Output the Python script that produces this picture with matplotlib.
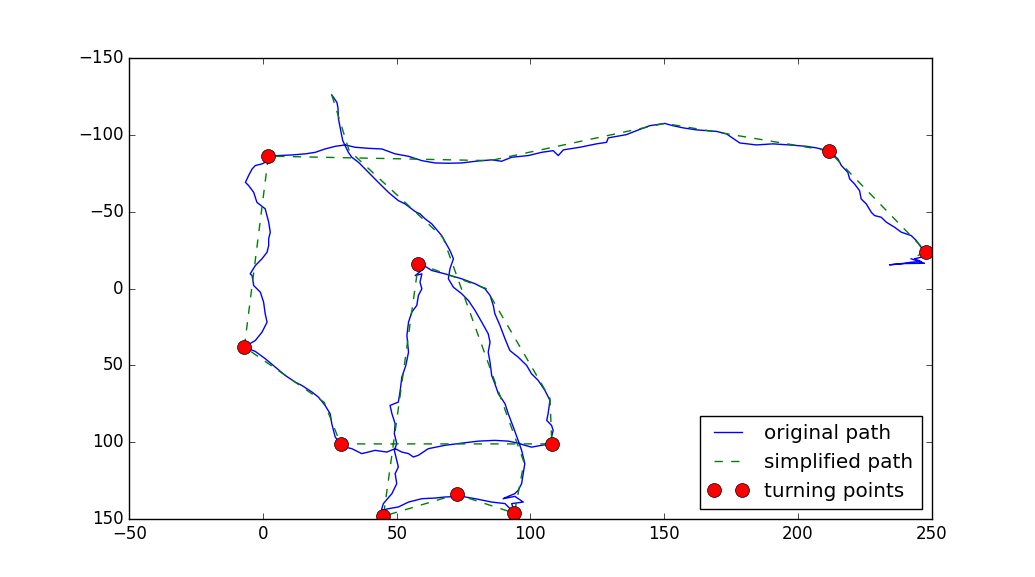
import matplotlib
matplotlib.use("Agg")
import matplotlib.pyplot as plt

# original (noisy) path
path_x = [25.7, 27.6, 28.0, 28.2, 29.2, 29.8, 30.7, 31.9, 33.2, 35.7, 39.4, 43.1, 46.9, 50.6, 53.1,
          56.9, 58.7, 60.6, 63.1, 66.8, 69.9, 71.2, 69.9, 69.3, 71.2, 74.3, 76.8, 79.3, 81.8, 84.2,
          84.9, 84.2, 84.9, 85.5, 86.7, 88.0, 90.5, 91.7, 93.6, 95.4, 96.7, 97.9, 97.3, 96.7, 95.4,
          94.2, 91.7, 89.8, 94.2, 97.3, 93.0, 94.0,
          90.5, 85.5, 79.3, 74.3, 68.1, 64.3, 59.4, 54.4, 50.6, 46.9, 44.4, 45.0,
          44.4, 45.0, 48.2, 50.0, 49.4, 50.6, 50.0, 49.1, 50.0, 49.1, 49.4, 48.2, 47.5, 50.6, 51.3,
          51.9, 53.4, 54.4, 53.8, 54.4, 55.6, 57.5, 58.1, 59.4, 58.7, 59.4, 56.9, 60.0, 58.1,
          61.2, 63.1, 68.1, 74.3, 79.3, 83.0, 84.9, 86.1, 86.7, 88.6, 90.5, 92.3, 95.4, 98.6, 100.4,
          102.9, 105.4, 107.3, 106.6, 106.1, 107.9, 108.5, 107.9, 108.1, 108.0,
          104.2, 100.4, 97.9, 95.4, 91.7, 86.7, 80.5, 74.3, 68.1, 61.8, 58.1, 56.2, 54.4, 51.9, 49.4,
          46.3, 41.9, 39.4, 36.9, 33.2, 29.5, 29.0,
          27.0, 25.7, 25.1, 23.2, 20.7, 18.3, 14.5, 12.0, 8.3, 4.6, 0.8, -2.9, -7.0,
          -2.9, -0.4, 1.5, 0.8, 0.2, -1.0, -3.5, -4.1, -4.8, -2.9, -0.4, 1.5, 2.1, 2.1, 2.7, 2.1,
          0.8, -2.3, -3.5, -5.4, -6.6, -5.4, -4.1, -2.9, -0.4, 2.1, 2.0,
          5.8, 10.8, 15.8, 19.5, 23.2, 27.0, 30.7, 34.4, 39.4, 44.4, 49.4, 54.4, 59.4, 64.3, 69.3,
          74.3, 80.5, 85.5, 89.2, 93.0, 99.2, 104.2, 108.5, 110.4, 112.3, 118.5, 124.7, 128.5, 129.1,
          135.9, 139.7, 144.6, 150.2, 153.3, 157.1, 162.1, 169.6, 173.3, 178.3, 184.5, 190.7, 196.9,
          203.2, 206.9, 211.5,
          215.0, 216.3, 218.7, 219.4, 221.2, 223.1, 223.7, 225.6, 227.5, 228.7, 231.2, 233.1, 236.2,
          238.7, 242.4, 244.3, 246.1, 248.0,
          246.1, 243.6, 246.1, 242.4, 238.7, 234.3, 238.7, 247.4, 242.4]
path_y = [-125.8, -121.0, -117.7, -110.2, -101.5, -96.1, -92.9, -88.5, -85.3, -82.0, -75.5, -69.0,
          -62.5, -57.1, -55.0, -50.0, -48.5, -45.3, -42.0, -34.4, -24.7, -19.3, -12.8, -6.3, -0.8,
          3.4, 7.8, 14.3, 21.9, 29.4, 34.9, 41.4, 47.9, 56.5, 61.9, 68.4, 74.9, 81.4, 90.1, 98.7,
          105.2, 113.8, 120.3, 126.8, 131.2, 133.3, 135.1, 136.6, 135.1, 138.8, 139.8, 146.0,
          139.8, 138.8, 136.6, 135.1, 135.5, 136.2, 136.6, 138.8, 142.0, 143.1, 144.2, 148.0,
          143.1, 139.8, 133.3, 126.8, 120.3, 116.0, 111.7, 105.2, 100.8, 94.4, 87.9, 81.4, 76.0,
          73.8, 66.2, 57.6, 50.0, 41.4, 30.5, 21.9, 15.4, 11.0, 4.5, 0.2, -4.1, -9.5, -8.4, -12.8,
          -16.0,
          -13.8, -11.7, -9.5, -6.3, -3.1, 0.2, 4.5, 11.0, 16.4, 24.0, 32.7, 40.3, 44.6, 50.0, 55.4,
          59.7, 66.2, 72.7, 81.4, 85.7, 89.0, 92.2, 96.6, 100.8, 101.0,
          101.9, 103.1, 101.9, 100.5, 99.2, 98.7, 99.2, 100.5, 101.9, 104.1, 108.4, 109.5, 107.3,
          106.3, 104.1, 106.3, 105.2, 106.3, 107.3, 104.1, 102.6, 101.0,
          96.6, 87.9, 81.4, 76.0, 70.6, 67.3, 63.0, 60.8, 56.5, 51.1, 45.6, 40.9, 38.0,
          33.8, 28.4, 21.9, 16.4, 8.9, 2.4, -1.9, -8.4, -9.5, -14.9, -19.3, -23.6, -27.9, -32.3,
          -36.6, -43.1, -51.8, -56.0, -62.5, -66.9, -69.0, -73.4, -77.7, -79.9, -81.0, -83.1, -86.0,
          -86.4, -86.8, -87.5, -88.5, -90.7, -92.4, -93.3, -91.8, -91.1, -90.7, -87.5, -85.9, -83.1,
          -81.6, -81.4, -81.6, -82.9, -83.6, -82.7, -85.3, -86.4, -88.5, -89.6, -86.4, -90.1, -91.8,
          -94.0, -95.0, -97.9, -100.0, -102.6, -105.8, -107.3, -105.8, -104.4, -103.1, -102.1,
          -100.5, -94.6, -93.3, -94.0, -93.3, -92.4, -91.4, -89.5,
          -84.2, -79.9, -75.5, -71.2, -68.0, -63.6, -58.2, -55.0, -49.5, -47.4, -46.3, -43.1, -39.8,
          -36.6, -34.4, -31.2, -26.8, -24.0,
          -20.3, -19.3, -17.5, -17.1, -16.0, -15.4, -16.2, -16.4, -19.3]

# simplified path vertices
simp_x = [25.7, 32.2, 67.3, 97.6, 94.0, 72.4, 45.0, 58.1, 83.4, 107.3, 108.0, 29.0, 22.9, -7.0,
          2.0, 84.9, 150.2, 211.5, 248.0, 242.4]
simp_y = [-125.8, -89.6, -33.1, 113.0, 146.0, 133.8, 148.0, -16.0, 0.0, 71.4, 101.0, 101.0, 74.0,
          38.0, -86.0, -83.1, -107.3, -89.5, -24.0, -19.3]

# turning points
turn_x = [94.0, 72.4, 45.0, 58.1, 108.0, 29.0, -7.0, 2.0, 211.5, 248.0]
turn_y = [146.0, 133.8, 148.0, -16.0, 101.0, 101.0, 38.0, -86.0, -89.5, -24.0]

plt.style.use("classic")
fig = plt.figure(figsize=(10.35, 5.77), dpi=100)
ax = fig.add_subplot(111)
ax.plot(path_x, path_y, "b-", lw=1, label="original path")
ax.plot(simp_x, simp_y, "g--", lw=1, label="simplified path")
ax.plot(turn_x, turn_y, "ro", markersize=10, label="turning points")
ax.set_xlim(-50, 250)
ax.set_ylim(150, -150)
ax.legend(loc="lower right")
fig.savefig("out.png", dpi=100)
